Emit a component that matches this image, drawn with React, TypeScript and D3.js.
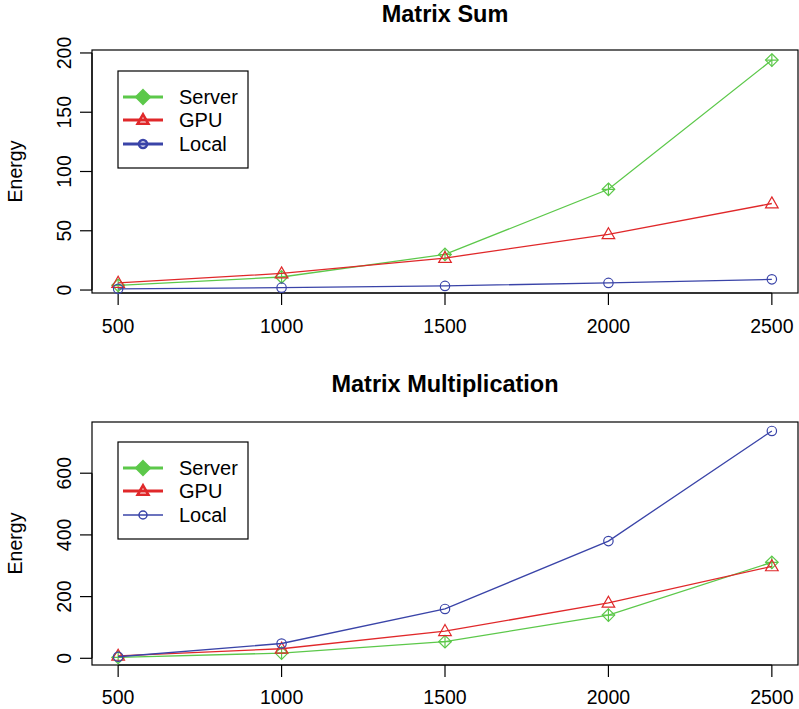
import React from "react";
import * as d3 from "d3";

const sizes = [500, 1000, 1500, 2000, 2500];
const xTicks = [500, 1000, 1500, 2000, 2500];

const sumServer = [4, 11, 30, 85, 194];
const sumGPU = [6, 14, 27, 47, 73];
const sumLocal = [1, 2, 3.5, 6, 9];
const sumYTicks = [0, 50, 100, 150, 200];

const mulServer = [3, 17, 54, 140, 311];
const mulGPU = [8, 31, 88, 180, 298];
const mulLocal = [5, 48, 160, 380, 737];
const mulYTicks = [0, 200, 400, 600];

const seriesNames = ["Server", "GPU", "Local"];
const colors = ["#5CC84A", "#E0282A", "#3A44A8"];

const FONT = "'Liberation Sans', Arial, Helvetica, sans-serif";

function Marker({ kind, x, y, color, sw = 1.2, filled = false, scale = 1 }: any) {
  if (kind === 0) {
    const r = 6.3 * scale;
    const d = `M${x},${y - r}L${x + r},${y}L${x},${y + r}L${x - r},${y}Z`;
    return (
      <g>
        <path d={d} fill={filled ? color : "none"} stroke={color} strokeWidth={sw} />
        {!filled && (
          <path d={`M${x - r},${y}H${x + r}M${x},${y - r}V${y + r}`} stroke={color} strokeWidth={sw} />
        )}
      </g>
    );
  }
  if (kind === 1) {
    const w = 6.3 * scale;
    const h = 11 * scale;
    const d = `M${x},${y - h * 0.6}L${x + w},${y + h * 0.4}L${x - w},${y + h * 0.4}Z`;
    return <path d={d} fill="none" stroke={color} strokeWidth={sw} />;
  }
  const r = 4.7 * scale;
  return <circle cx={x} cy={y} r={r} fill="none" stroke={color} strokeWidth={sw} />;
}

function Panel({ title, top, bottom, yDomain, yTicks, data, titleBase, xLabelBase, legendTop, legendLocalThin }: any) {
  const left = 92;
  const right = 798;
  const x = d3.scaleLinear().domain([420, 2580]).range([left, right]);
  const y = d3.scaleLinear().domain(yDomain).range([bottom, top]);
  const line = d3
    .line<number>()
    .x((_, i) => x(sizes[i]))
    .y((v) => y(v));
  const rowY = [legendTop + 26, legendTop + 49, legendTop + 73];
  return (
    <g>
      <text x={(left + right) / 2} y={titleBase} textAnchor="middle" fontFamily={FONT} fontWeight="bold" fontSize={23.5}>
        {title}
      </text>
      <rect x={left} y={top} width={right - left} height={bottom - top} fill="none" stroke="#000" strokeWidth={1.2} />
      {/* x axis */}
      <line x1={x(xTicks[0])} x2={x(xTicks[xTicks.length - 1])} y1={bottom} y2={bottom} stroke="#000" strokeWidth={1.2} />
      {xTicks.map((t) => (
        <g key={t}>
          <line x1={x(t)} x2={x(t)} y1={bottom} y2={bottom + 12} stroke="#000" strokeWidth={1.2} />
          <text x={x(t)} y={xLabelBase} textAnchor="middle" fontFamily={FONT} fontSize={19.5}>
            {t}
          </text>
        </g>
      ))}
      {/* y axis */}
      <line x1={left} x2={left} y1={y(yTicks[0])} y2={y(yTicks[yTicks.length - 1])} stroke="#000" strokeWidth={1.2} />
      {yTicks.map((t: number) => (
        <g key={t}>
          <line x1={left - 12} x2={left} y1={y(t)} y2={y(t)} stroke="#000" strokeWidth={1.2} />
          <text
            transform={`translate(71,${y(t)}) rotate(-90)`}
            textAnchor="middle"
            fontFamily={FONT}
            fontSize={19.5}
          >
            {t}
          </text>
        </g>
      ))}
      <text
        transform={`translate(22,${(top + bottom) / 2}) rotate(-90)`}
        textAnchor="middle"
        fontFamily={FONT}
        fontSize={19.5}
      >
        Energy
      </text>
      {/* series */}
      {data.map((vals: number[], si: number) => (
        <g key={si}>
          <path d={line(vals) || ""} fill="none" stroke={colors[si]} strokeWidth={1.3} />
          {vals.map((v, i) => (
            <Marker key={i} kind={si} x={x(sizes[i])} y={y(v)} color={colors[si]} sw={1.2} />
          ))}
        </g>
      ))}
      {/* legend */}
      <rect x={118} y={legendTop} width={130} height={97} fill="#fff" stroke="#000" strokeWidth={1.2} />
      {seriesNames.map((n, i) => {
        const thin = legendLocalThin && i === 2;
        const lw = thin ? 1.5 : 3;
        return (
          <g key={n}>
            <line x1={123} x2={163} y1={rowY[i]} y2={rowY[i]} stroke={colors[i]} strokeWidth={lw} />
            <Marker kind={i} x={143} y={rowY[i]} color={colors[i]} sw={thin ? 1.5 : 2.6} filled={i === 0} scale={i === 0 ? 1.05 : 0.85} />
            <text x={179} y={rowY[i] + 7} fontFamily={FONT} fontSize={20}>
              {n}
            </text>
          </g>
        );
      })}
    </g>
  );
}

export default function App() {
  return (
    <svg width={799} height={709} style={{ display: "block", position: "absolute", left: 0, top: 0 }}>
      <rect width={799} height={709} fill="#fff" />
      <Panel
        title="Matrix Sum"
        top={50}
        bottom={293}
        yDomain={[-2.5, 202.5]}
        yTicks={sumYTicks}
        data={[sumServer, sumGPU, sumLocal]}
        titleBase={22}
        xLabelBase={333}
        legendTop={71}
        legendLocalThin={false}
      />
      <Panel
        title="Matrix Multiplication"
        top={422}
        bottom={665}
        yDomain={[-21.7, 766]}
        yTicks={mulYTicks}
        data={[mulServer, mulGPU, mulLocal]}
        titleBase={392}
        xLabelBase={704}
        legendTop={442}
        legendLocalThin={true}
      />
    </svg>
  );
}
